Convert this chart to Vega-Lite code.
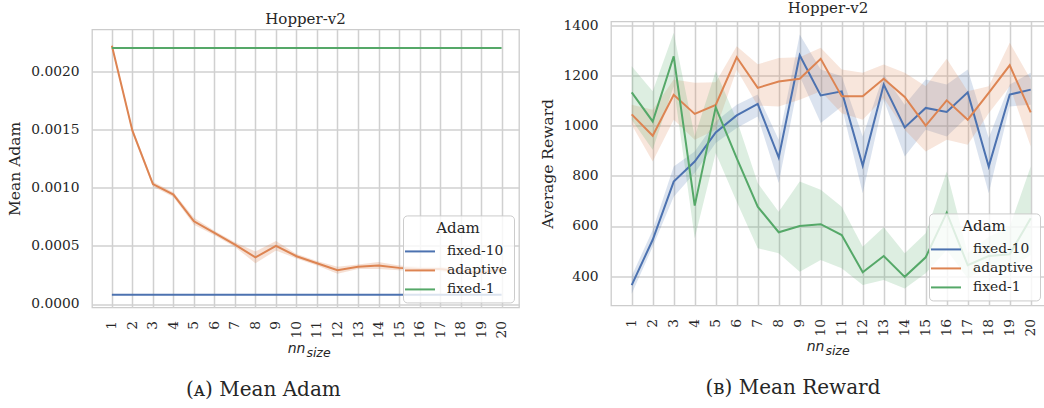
{
  "$schema": "https://vega.github.io/schema/vega-lite/v6.json",
  "background": "white",
  "padding": {"left": 7, "top": 0, "right": 0, "bottom": 0},
  "datasets": {
    "adam": [
      {"nn": 1, "Adam": "fixed-10", "mean": 0.00008, "lo": 0.00008, "hi": 0.00008},
      {"nn": 2, "Adam": "fixed-10", "mean": 0.00008, "lo": 0.00008, "hi": 0.00008},
      {"nn": 3, "Adam": "fixed-10", "mean": 0.00008, "lo": 0.00008, "hi": 0.00008},
      {"nn": 4, "Adam": "fixed-10", "mean": 0.00008, "lo": 0.00008, "hi": 0.00008},
      {"nn": 5, "Adam": "fixed-10", "mean": 0.00008, "lo": 0.00008, "hi": 0.00008},
      {"nn": 6, "Adam": "fixed-10", "mean": 0.00008, "lo": 0.00008, "hi": 0.00008},
      {"nn": 7, "Adam": "fixed-10", "mean": 0.00008, "lo": 0.00008, "hi": 0.00008},
      {"nn": 8, "Adam": "fixed-10", "mean": 0.00008, "lo": 0.00008, "hi": 0.00008},
      {"nn": 9, "Adam": "fixed-10", "mean": 0.00008, "lo": 0.00008, "hi": 0.00008},
      {"nn": 10, "Adam": "fixed-10", "mean": 0.00008, "lo": 0.00008, "hi": 0.00008},
      {"nn": 11, "Adam": "fixed-10", "mean": 0.00008, "lo": 0.00008, "hi": 0.00008},
      {"nn": 12, "Adam": "fixed-10", "mean": 0.00008, "lo": 0.00008, "hi": 0.00008},
      {"nn": 13, "Adam": "fixed-10", "mean": 0.00008, "lo": 0.00008, "hi": 0.00008},
      {"nn": 14, "Adam": "fixed-10", "mean": 0.00008, "lo": 0.00008, "hi": 0.00008},
      {"nn": 15, "Adam": "fixed-10", "mean": 0.00008, "lo": 0.00008, "hi": 0.00008},
      {"nn": 16, "Adam": "fixed-10", "mean": 0.00008, "lo": 0.00008, "hi": 0.00008},
      {"nn": 17, "Adam": "fixed-10", "mean": 0.00008, "lo": 0.00008, "hi": 0.00008},
      {"nn": 18, "Adam": "fixed-10", "mean": 0.00008, "lo": 0.00008, "hi": 0.00008},
      {"nn": 19, "Adam": "fixed-10", "mean": 0.00008, "lo": 0.00008, "hi": 0.00008},
      {"nn": 20, "Adam": "fixed-10", "mean": 0.00008, "lo": 0.00008, "hi": 0.00008},
      {"nn": 1, "Adam": "adaptive", "mean": 0.00222, "lo": 0.0022, "hi": 0.00224},
      {"nn": 2, "Adam": "adaptive", "mean": 0.00149, "lo": 0.00147, "hi": 0.00151},
      {"nn": 3, "Adam": "adaptive", "mean": 0.00103, "lo": 0.00101, "hi": 0.00105},
      {"nn": 4, "Adam": "adaptive", "mean": 0.00094, "lo": 0.00092, "hi": 0.00096},
      {"nn": 5, "Adam": "adaptive", "mean": 0.00071, "lo": 0.00068, "hi": 0.00074},
      {"nn": 6, "Adam": "adaptive", "mean": 0.00061, "lo": 0.00059, "hi": 0.00063},
      {"nn": 7, "Adam": "adaptive", "mean": 0.00051, "lo": 0.00049, "hi": 0.00053},
      {"nn": 8, "Adam": "adaptive", "mean": 0.0004, "lo": 0.00035, "hi": 0.00045},
      {"nn": 9, "Adam": "adaptive", "mean": 0.0005, "lo": 0.00046, "hi": 0.00054},
      {"nn": 10, "Adam": "adaptive", "mean": 0.00041, "lo": 0.00039, "hi": 0.00043},
      {"nn": 11, "Adam": "adaptive", "mean": 0.00035, "lo": 0.00033, "hi": 0.00037},
      {"nn": 12, "Adam": "adaptive", "mean": 0.00029, "lo": 0.00026, "hi": 0.00032},
      {"nn": 13, "Adam": "adaptive", "mean": 0.00032, "lo": 0.0003, "hi": 0.00034},
      {"nn": 14, "Adam": "adaptive", "mean": 0.00033, "lo": 0.0003, "hi": 0.00036},
      {"nn": 15, "Adam": "adaptive", "mean": 0.00031, "lo": 0.00029, "hi": 0.00033},
      {"nn": 16, "Adam": "adaptive", "mean": 0.0003, "lo": 0.00028, "hi": 0.00032},
      {"nn": 17, "Adam": "adaptive", "mean": 0.0003, "lo": 0.00028, "hi": 0.00032},
      {"nn": 18, "Adam": "adaptive", "mean": 0.00028, "lo": 0.00026, "hi": 0.0003},
      {"nn": 19, "Adam": "adaptive", "mean": 0.00027, "lo": 0.00025, "hi": 0.00029},
      {"nn": 20, "Adam": "adaptive", "mean": 0.0003, "lo": 0.00028, "hi": 0.00032},
      {"nn": 1, "Adam": "fixed-1", "mean": 0.0022, "lo": 0.0022, "hi": 0.0022},
      {"nn": 2, "Adam": "fixed-1", "mean": 0.0022, "lo": 0.0022, "hi": 0.0022},
      {"nn": 3, "Adam": "fixed-1", "mean": 0.0022, "lo": 0.0022, "hi": 0.0022},
      {"nn": 4, "Adam": "fixed-1", "mean": 0.0022, "lo": 0.0022, "hi": 0.0022},
      {"nn": 5, "Adam": "fixed-1", "mean": 0.0022, "lo": 0.0022, "hi": 0.0022},
      {"nn": 6, "Adam": "fixed-1", "mean": 0.0022, "lo": 0.0022, "hi": 0.0022},
      {"nn": 7, "Adam": "fixed-1", "mean": 0.0022, "lo": 0.0022, "hi": 0.0022},
      {"nn": 8, "Adam": "fixed-1", "mean": 0.0022, "lo": 0.0022, "hi": 0.0022},
      {"nn": 9, "Adam": "fixed-1", "mean": 0.0022, "lo": 0.0022, "hi": 0.0022},
      {"nn": 10, "Adam": "fixed-1", "mean": 0.0022, "lo": 0.0022, "hi": 0.0022},
      {"nn": 11, "Adam": "fixed-1", "mean": 0.0022, "lo": 0.0022, "hi": 0.0022},
      {"nn": 12, "Adam": "fixed-1", "mean": 0.0022, "lo": 0.0022, "hi": 0.0022},
      {"nn": 13, "Adam": "fixed-1", "mean": 0.0022, "lo": 0.0022, "hi": 0.0022},
      {"nn": 14, "Adam": "fixed-1", "mean": 0.0022, "lo": 0.0022, "hi": 0.0022},
      {"nn": 15, "Adam": "fixed-1", "mean": 0.0022, "lo": 0.0022, "hi": 0.0022},
      {"nn": 16, "Adam": "fixed-1", "mean": 0.0022, "lo": 0.0022, "hi": 0.0022},
      {"nn": 17, "Adam": "fixed-1", "mean": 0.0022, "lo": 0.0022, "hi": 0.0022},
      {"nn": 18, "Adam": "fixed-1", "mean": 0.0022, "lo": 0.0022, "hi": 0.0022},
      {"nn": 19, "Adam": "fixed-1", "mean": 0.0022, "lo": 0.0022, "hi": 0.0022},
      {"nn": 20, "Adam": "fixed-1", "mean": 0.0022, "lo": 0.0022, "hi": 0.0022}
    ],
    "reward": [
      {"nn": 1, "Adam": "fixed-10", "mean": 364, "lo": 330, "hi": 400},
      {"nn": 2, "Adam": "fixed-10", "mean": 545, "lo": 517, "hi": 584},
      {"nn": 3, "Adam": "fixed-10", "mean": 777, "lo": 717, "hi": 837},
      {"nn": 4, "Adam": "fixed-10", "mean": 857, "lo": 811, "hi": 897},
      {"nn": 5, "Adam": "fixed-10", "mean": 973, "lo": 931, "hi": 1017},
      {"nn": 6, "Adam": "fixed-10", "mean": 1041, "lo": 991, "hi": 1084},
      {"nn": 7, "Adam": "fixed-10", "mean": 1087, "lo": 1037, "hi": 1124},
      {"nn": 8, "Adam": "fixed-10", "mean": 873, "lo": 771, "hi": 944},
      {"nn": 9, "Adam": "fixed-10", "mean": 1281, "lo": 1197, "hi": 1364},
      {"nn": 10, "Adam": "fixed-10", "mean": 1121, "lo": 1011, "hi": 1224},
      {"nn": 11, "Adam": "fixed-10", "mean": 1137, "lo": 1077, "hi": 1197},
      {"nn": 12, "Adam": "fixed-10", "mean": 841, "lo": 731, "hi": 957},
      {"nn": 13, "Adam": "fixed-10", "mean": 1164, "lo": 1104, "hi": 1204},
      {"nn": 14, "Adam": "fixed-10", "mean": 993, "lo": 877, "hi": 1084},
      {"nn": 15, "Adam": "fixed-10", "mean": 1071, "lo": 984, "hi": 1184},
      {"nn": 16, "Adam": "fixed-10", "mean": 1055, "lo": 957, "hi": 1164},
      {"nn": 17, "Adam": "fixed-10", "mean": 1133, "lo": 1037, "hi": 1224},
      {"nn": 18, "Adam": "fixed-10", "mean": 837, "lo": 731, "hi": 951},
      {"nn": 19, "Adam": "fixed-10", "mean": 1124, "lo": 1077, "hi": 1164},
      {"nn": 20, "Adam": "fixed-10", "mean": 1144, "lo": 1084, "hi": 1211},
      {"nn": 1, "Adam": "adaptive", "mean": 1045, "lo": 1004, "hi": 1084},
      {"nn": 2, "Adam": "adaptive", "mean": 960, "lo": 857, "hi": 1064},
      {"nn": 3, "Adam": "adaptive", "mean": 1123, "lo": 1024, "hi": 1184},
      {"nn": 4, "Adam": "adaptive", "mean": 1047, "lo": 944, "hi": 1171},
      {"nn": 5, "Adam": "adaptive", "mean": 1083, "lo": 984, "hi": 1173},
      {"nn": 6, "Adam": "adaptive", "mean": 1273, "lo": 1224, "hi": 1317},
      {"nn": 7, "Adam": "adaptive", "mean": 1151, "lo": 1080, "hi": 1245},
      {"nn": 8, "Adam": "adaptive", "mean": 1176, "lo": 1077, "hi": 1270},
      {"nn": 9, "Adam": "adaptive", "mean": 1187, "lo": 1104, "hi": 1273},
      {"nn": 10, "Adam": "adaptive", "mean": 1267, "lo": 1137, "hi": 1311},
      {"nn": 11, "Adam": "adaptive", "mean": 1117, "lo": 1050, "hi": 1224},
      {"nn": 12, "Adam": "adaptive", "mean": 1117, "lo": 1024, "hi": 1211},
      {"nn": 13, "Adam": "adaptive", "mean": 1187, "lo": 1111, "hi": 1244},
      {"nn": 14, "Adam": "adaptive", "mean": 1115, "lo": 984, "hi": 1211},
      {"nn": 15, "Adam": "adaptive", "mean": 1000, "lo": 897, "hi": 1157},
      {"nn": 16, "Adam": "adaptive", "mean": 1101, "lo": 944, "hi": 1267},
      {"nn": 17, "Adam": "adaptive", "mean": 1024, "lo": 924, "hi": 1137},
      {"nn": 18, "Adam": "adaptive", "mean": 1131, "lo": 1050, "hi": 1157},
      {"nn": 19, "Adam": "adaptive", "mean": 1241, "lo": 1157, "hi": 1331},
      {"nn": 20, "Adam": "adaptive", "mean": 1053, "lo": 917, "hi": 1184},
      {"nn": 1, "Adam": "fixed-1", "mean": 1133, "lo": 1024, "hi": 1237},
      {"nn": 2, "Adam": "fixed-1", "mean": 1017, "lo": 904, "hi": 1137},
      {"nn": 3, "Adam": "fixed-1", "mean": 1277, "lo": 1157, "hi": 1371},
      {"nn": 4, "Adam": "fixed-1", "mean": 681, "lo": 551, "hi": 957},
      {"nn": 5, "Adam": "fixed-1", "mean": 1073, "lo": 891, "hi": 1217},
      {"nn": 6, "Adam": "fixed-1", "mean": 871, "lo": 697, "hi": 1024},
      {"nn": 7, "Adam": "fixed-1", "mean": 677, "lo": 511, "hi": 771},
      {"nn": 8, "Adam": "fixed-1", "mean": 575, "lo": 491, "hi": 657},
      {"nn": 9, "Adam": "fixed-1", "mean": 600, "lo": 417, "hi": 777},
      {"nn": 10, "Adam": "fixed-1", "mean": 607, "lo": 464, "hi": 744},
      {"nn": 11, "Adam": "fixed-1", "mean": 564, "lo": 431, "hi": 677},
      {"nn": 12, "Adam": "fixed-1", "mean": 415, "lo": 364, "hi": 517},
      {"nn": 13, "Adam": "fixed-1", "mean": 480, "lo": 384, "hi": 595},
      {"nn": 14, "Adam": "fixed-1", "mean": 397, "lo": 351, "hi": 491},
      {"nn": 15, "Adam": "fixed-1", "mean": 475, "lo": 411, "hi": 571},
      {"nn": 16, "Adam": "fixed-1", "mean": 653, "lo": 504, "hi": 817},
      {"nn": 17, "Adam": "fixed-1", "mean": 444, "lo": 390, "hi": 491},
      {"nn": 18, "Adam": "fixed-1", "mean": 480, "lo": 437, "hi": 557},
      {"nn": 19, "Adam": "fixed-1", "mean": 487, "lo": 431, "hi": 597},
      {"nn": 20, "Adam": "fixed-1", "mean": 631, "lo": 484, "hi": 837}
    ]
  },
  "hconcat": [
    {
      "vconcat": [
        {
          "width": 427,
          "height": 278,
          "data": {"name": "adam"},
          "title": {"text": "Hopper-v2", "offset": 2},
          "layer": [
            {
              "mark": {"type": "area", "opacity": 0.25},
              "encoding": {
                "x": {"field": "nn", "type": "quantitative",
                  "scale": {"domain": [0.03, 20.85], "nice": false, "zero": false},
                  "axis": {"orient": "bottom", "values": [1,2,3,4,5,6,7,8,9,10,11,12,13,14,15,16,17,18,19,20], "labelAngle": -90, "title": "nn", "titleFont": "DejaVu Sans", "titleFontStyle": "italic", "titleFontSize": 14, "titleX": 204, "titlePadding": 4}},
                "y": {"field": "lo", "type": "quantitative",
                  "scale": {"domain": [-0.00003, 0.00236], "nice": false, "zero": false},
                  "axis": {"values": [0, 0.0005, 0.001, 0.0015, 0.002], "format": ".4f", "title": "Mean Adam"}},
                "y2": {"field": "hi"},
                "fill": {"field": "Adam", "type": "nominal", "scale": {"domain": ["fixed-10", "adaptive", "fixed-1"], "range": ["#4c72b0", "#dd8452", "#55a868"]}, "legend": null}
              }
            },
            {
              "mark": {"type": "line", "strokeWidth": 2},
              "encoding": {
                "x": {"field": "nn", "type": "quantitative",
                  "axis": {"orient": "bottom", "title": "size", "labels": false, "grid": false, "ticks": false, "domain": false, "titleFont": "DejaVu Sans", "titleFontStyle": "italic", "titleFontSize": 12.5, "titleX": 226, "titleY": 39}},
                "y": {"field": "mean", "type": "quantitative", "axis": {"values": [0, 0.0005, 0.001, 0.0015, 0.002], "format": ".4f", "title": "Mean Adam"}},
                "color": {"field": "Adam", "type": "nominal", "scale": {"domain": ["fixed-10", "adaptive", "fixed-1"], "range": ["#4c72b0", "#dd8452", "#55a868"]}, "legend": {"title": "Adam"}}
              }
            }
          ],
          "resolve": {"axis": {"x": "independent"}}
        }
      ],
      "title": {"text": "(ᴀ) Mean Adam", "orient": "bottom", "font": "DejaVu Serif", "fontSize": 20, "offset": 20, "anchor": "middle", "frame": "bounds"},
      "resolve": {"legend": {"color": "independent"}, "scale": {"color": "independent"}}
    },
    {
      "vconcat": [
        {
          "width": 434,
          "height": 284,
          "data": {"name": "reward"},
          "title": {"text": "Hopper-v2", "offset": 2},
          "layer": [
            {
              "mark": {"type": "area", "opacity": 0.2},
              "encoding": {
                "x": {"field": "nn", "type": "quantitative",
                  "scale": {"domain": [0.014, 20.68], "nice": false, "zero": false},
                  "axis": {"orient": "bottom", "values": [1,2,3,4,5,6,7,8,9,10,11,12,13,14,15,16,17,18,19,20], "labelAngle": -90, "title": "nn", "titleFont": "DejaVu Sans", "titleFontStyle": "italic", "titleFontSize": 14, "titleX": 204, "titlePadding": 4}},
                "y": {"field": "lo", "type": "quantitative",
                  "scale": {"domain": [283, 1416], "nice": false, "zero": false},
                  "axis": {"values": [400, 600, 800, 1000, 1200, 1400], "format": "d", "title": "Average Reward", "titlePadding": 7}},
                "y2": {"field": "hi"},
                "fill": {"field": "Adam", "type": "nominal", "scale": {"domain": ["fixed-10", "adaptive", "fixed-1"], "range": ["#4c72b0", "#dd8452", "#55a868"]}, "legend": null}
              }
            },
            {
              "mark": {"type": "line", "strokeWidth": 2},
              "encoding": {
                "x": {"field": "nn", "type": "quantitative",
                  "axis": {"orient": "bottom", "title": "size", "labels": false, "grid": false, "ticks": false, "domain": false, "titleFont": "DejaVu Sans", "titleFontStyle": "italic", "titleFontSize": 12.5, "titleX": 226, "titleY": 39}},
                "y": {"field": "mean", "type": "quantitative", "axis": {"values": [400, 600, 800, 1000, 1200, 1400], "format": "d", "title": "Average Reward", "titlePadding": 7}},
                "color": {"field": "Adam", "type": "nominal", "scale": {"domain": ["fixed-10", "adaptive", "fixed-1"], "range": ["#4c72b0", "#dd8452", "#55a868"]}, "legend": {"title": "Adam"}}
              }
            }
          ],
          "resolve": {"axis": {"x": "independent"}}
        }
      ],
      "title": {"text": ["(ʙ) Mean Reward", ""], "lineHeight": 10, "orient": "bottom", "font": "DejaVu Serif", "fontSize": 20, "offset": 20, "anchor": "middle", "frame": "bounds"},
      "resolve": {"legend": {"color": "independent"}, "scale": {"color": "independent"}}
    }
  ],
  "spacing": 20,
  "center": true,
  "resolve": {"legend": {"color": "independent"}, "scale": {"color": "independent", "fill": "independent"}},
  "config": {
    "font": "DejaVu Serif",
    "view": {"stroke": "#cccccc", "strokeWidth": 1.3},
    "axis": {
      "grid": true, "gridColor": "#d0d0d0", "gridWidth": 1.5,
      "domain": false, "ticks": false, "tickSize": 0,
      "labelFont": "DejaVu Serif", "labelFontSize": 13.8, "labelColor": "#262626", "labelPadding": 13,
      "titleFont": "DejaVu Serif", "titleFontSize": 15.5, "titleFontWeight": "normal", "titleColor": "#262626", "titlePadding": 8
    },
    "title": {"font": "DejaVu Serif", "fontSize": 15, "fontWeight": "normal", "color": "#262626"},
    "legend": {
      "orient": "bottom-right", "offset": 5,
      "fillColor": "rgba(255,255,255,0.8)", "strokeColor": "#cccccc", "cornerRadius": 4, "padding": 6,
      "titleAnchor": "middle", "titleFont": "DejaVu Serif", "titleFontSize": 15, "titleFontWeight": "normal", "titleColor": "#262626", "titlePadding": 4,
      "labelFont": "DejaVu Serif", "labelFontSize": 13.8, "labelColor": "#262626", "labelOffset": 16,
      "symbolType": "M-1.5,0H1.5", "symbolStrokeWidth": 2, "symbolSize": 400, "rowPadding": 1
    }
  }
}
